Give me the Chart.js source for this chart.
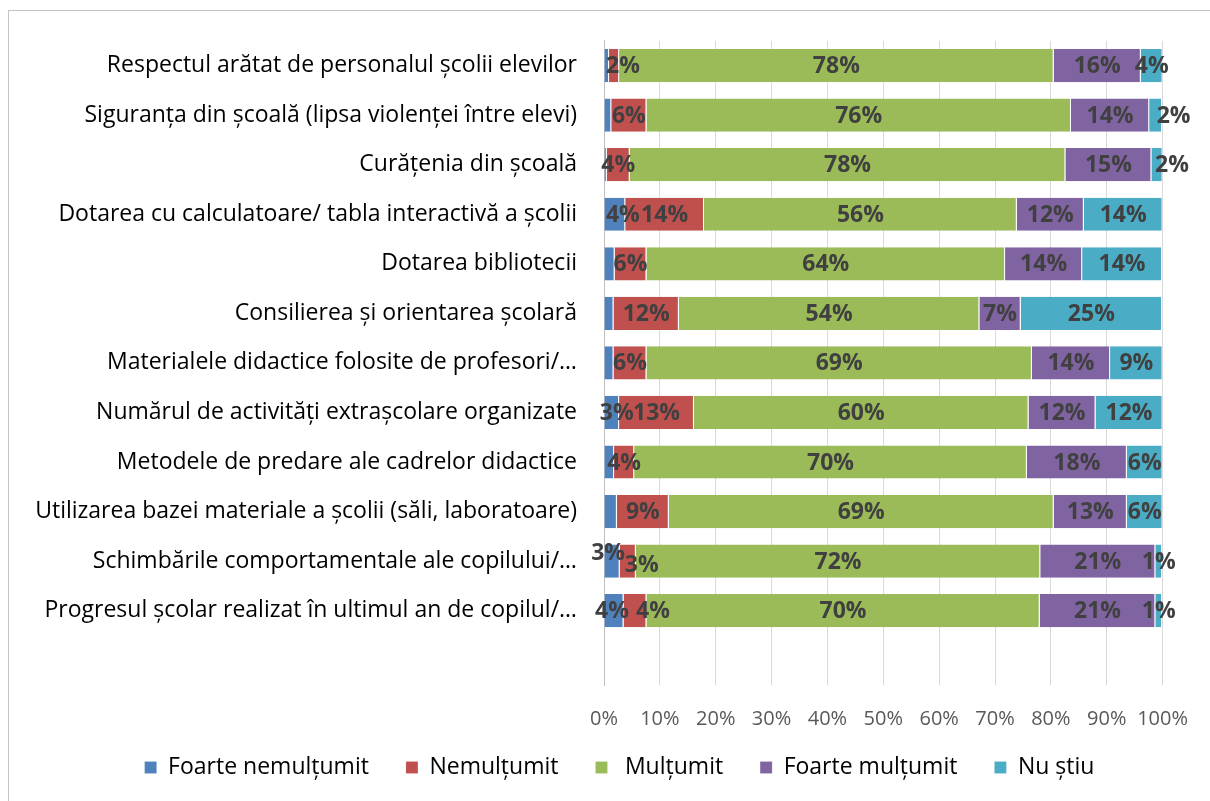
<!DOCTYPE html>
<html><head><meta charset="utf-8">
<script src="https://cdn.jsdelivr.net/npm/chart.js@4.4.1/dist/chart.umd.min.js"></script>
<style>
html,body{margin:0;padding:0;background:#fff;overflow:hidden;}
#wrap{position:relative;width:1210px;height:801px;}
#frame{position:absolute;left:8px;top:10px;width:1230px;height:830px;border:1px solid #c4c4c4;box-sizing:border-box;}
canvas{position:absolute;left:0;top:0;}
</style></head><body>
<div id="wrap"><div id="frame"></div><canvas id="c" width="1210" height="801"></canvas></div>
<script>
const categories = [
  "Respectul arătat de personalul școlii elevilor",
  "Siguranța din școală (lipsa violenței între elevi)",
  "Curățenia din școală",
  "Dotarea cu calculatoare/ tabla interactivă a școlii",
  "Dotarea bibliotecii",
  "Consilierea și orientarea școlară",
  "Materialele didactice folosite de profesori/…",
  "Numărul de activități extrașcolare organizate",
  "Metodele de predare ale cadrelor didactice",
  "Utilizarea bazei materiale a școlii (săli, laboratoare)",
  "Schimbările comportamentale ale copilului/…",
  "Progresul școlar realizat în ultimul an de copilul/…"
];
const seriesNames = ["Foarte nemulțumit", "Nemulțumit", " Mulțumit", "Foarte mulțumit", "Nu știu"];
const foarteNemultumit = [0.9, 1.3, 0.5, 3.8, 1.9, 1.7, 1.7, 2.7, 1.8, 2.3, 2.8, 3.5];
const nemultumit       = [1.8, 6.3, 4.1, 14.1, 5.7, 11.7, 5.9, 13.4, 3.6, 9.3, 2.9, 4.1];
const multumit         = [77.8, 76.0, 78.0, 56.0, 64.2, 53.8, 69.0, 59.9, 70.3, 68.9, 72.4, 70.4];
const foarteMultumit   = [15.6, 14.0, 15.4, 12.0, 13.8, 7.4, 14.0, 12.0, 17.9, 13.1, 20.6, 20.7];
const nuStiu           = [3.9, 2.3, 2.0, 14.1, 14.3, 25.3, 9.4, 12.0, 6.4, 6.4, 1.2, 1.2];
const xTicks = [0, 10, 20, 30, 40, 50, 60, 70, 80, 90, 100];

const colors = ["#4f81bd", "#c0504d", "#9bbb59", "#8064a2", "#4bacc6"];
const allSeries = [foarteNemultumit, nemultumit, multumit, foarteMultumit, nuStiu];

// label nudges for crowded small segments (dataset,row) -> [dx,dy]
const nudges = {"1,0":[9,0],"4,1":[18,0],"4,2":[15,0],"0,3":[8,0],"0,7":[5,0],"0,10":[-4,-9],"1,10":[14,3],"0,11":[-2,0],"1,11":[18,0]};

const labelPlugin = {
  id: 'segLabels',
  afterLayout(chart) {
    const lg = chart.legend;
    if (lg) { lg.left += 33; lg.right += 33; lg.top -= 12; lg.bottom -= 12; }
  },
  afterDatasetsDraw(chart) {
    const ctx = chart.ctx;
    ctx.save();
    ctx.font = 'bold 23px "Open Sans"';
    ctx.fillStyle = '#404040';
    ctx.textAlign = 'center';
    ctx.textBaseline = 'middle';
    chart.data.datasets.forEach((ds, di) => {
      const meta = chart.getDatasetMeta(di);
      meta.data.forEach((el, i) => {
        const v = ds.data[i];
        if (v == null) return;
        if (di === 0 && v < 2.5) return;
        const p = el.getProps(['x', 'y', 'base'], true);
        const n = nudges[di + ',' + i] || [0, 0];
        ctx.fillText(Math.round(v) + '%', (p.x + p.base) / 2 + n[0], p.y + n[1] + 1);
      });
    });
    ctx.restore();
  }
};

const font = '"Open Sans"';
new Chart(document.getElementById('c'), {
  type: 'bar',
  data: {
    labels: [...categories, ''],
    datasets: allSeries.map((s, k) => ({
      label: seriesNames[k],
      data: [...s, null],
      backgroundColor: colors[k],
      borderColor: 'rgba(255,255,255,0.55)',
      borderWidth: {left: 0, right: 1, top: 0, bottom: 0},
      borderSkipped: false,
      categoryPercentage: 1,
      barPercentage: 0.67
    }))
  },
  options: {
    indexAxis: 'y',
    responsive: false,
    animation: false,
    layout: {padding: {left: 10, right: 47, top: 38, bottom: 0}},
    scales: {
      x: {
        stacked: true, min: 0, max: 100,
        afterBuildTicks(s) { s.ticks = xTicks.map(v => ({value: v})); },
        afterFit(s) { s.height = 46; },
        grid: {color: '#d9d9d9', drawTicks: false, lineWidth: 1},
        border: {display: false},
        ticks: {callback: v => v + '%', padding: 22, color: '#595959', font: {family: font, size: 20}, maxRotation: 0, autoSkip: false}
      },
      y: {
        stacked: true,
        afterFit(s) { s.width = 604 - 10; },
        grid: {display: false, drawTicks: false},
        border: {display: true, color: '#bfbfbf', width: 1},
        ticks: {padding: 27, color: '#000', font: {family: font, size: 23}, autoSkip: false}
      }
    },
    plugins: {
      legend: {
        position: 'bottom',
        labels: {boxWidth: 12, boxHeight: 12, padding: 37, color: '#000', font: {family: font, size: 23}}
      },
      tooltip: {enabled: false}
    }
  },
  plugins: [labelPlugin]
});
</script>
</body></html>
